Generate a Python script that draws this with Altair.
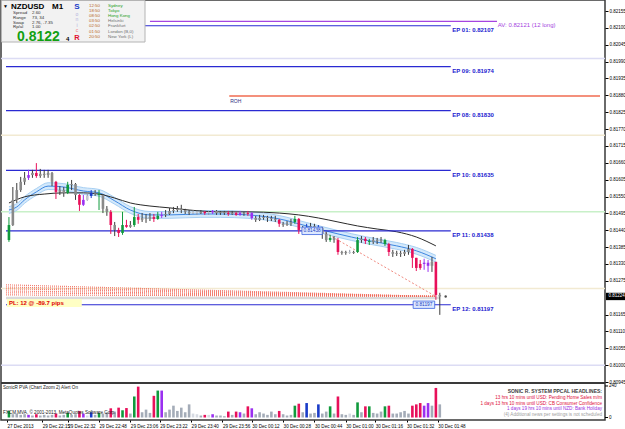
import json
import altair as alt
import pandas as pd

# ---------------- data ----------------
bar = list(range(111))
open_ = [0.81408,0.81457,0.81539,0.81571,0.81598,0.81611,0.81620,0.81627,0.81617,0.81624,
         0.81620,0.81627,0.81598,0.81565,0.81571,0.81562,0.81588,0.81591,0.81555,0.81523,
         0.81539,0.81552,0.81562,0.81559,0.81555,0.81510,0.81500,0.81457,0.81441,0.81431,
         0.81457,0.81451,0.81457,0.81483,0.81474,0.81480,0.81477,0.81483,0.81477,0.81487,
         0.81490,0.81493,0.81503,0.81506,0.81510,0.81506,0.81500,0.81496,0.81500,0.81496,
         0.81500,0.81496,0.81499,0.81503,0.81496,0.81499,0.81496,0.81493,0.81496,0.81490,
         0.81496,0.81493,0.81496,0.81480,0.81474,0.81480,0.81483,0.81480,0.81477,0.81474,
         0.81461,0.81457,0.81461,0.81467,0.81477,0.81441,0.81438,0.81451,0.81454,0.81451,
         0.81448,0.81428,0.81408,0.81415,0.81408,0.81369,0.81366,0.81369,0.81366,0.81369,
         0.81408,0.81412,0.81405,0.81402,0.81408,0.81405,0.81408,0.81395,0.81369,0.81363,
         0.81366,0.81363,0.81369,0.81379,0.81350,0.81317,0.81330,0.81334,0.81324,0.81337,
         0.81229]
high = [0.81483,0.81581,0.81594,0.81614,0.81630,0.81637,0.81637,0.81659,0.81640,0.81637,
        0.81637,0.81630,0.81601,0.81584,0.81581,0.81598,0.81604,0.81594,0.81558,0.81555,
        0.81562,0.81571,0.81571,0.81571,0.81558,0.81519,0.81506,0.81467,0.81448,0.81500,
        0.81474,0.81470,0.81516,0.81493,0.81496,0.81493,0.81496,0.81493,0.81500,0.81500,
        0.81506,0.81513,0.81516,0.81519,0.81523,0.81510,0.81506,0.81506,0.81503,0.81506,
        0.81503,0.81503,0.81506,0.81506,0.81503,0.81503,0.81503,0.81503,0.81500,0.81503,
        0.81500,0.81503,0.81499,0.81487,0.81490,0.81490,0.81487,0.81487,0.81487,0.81477,
        0.81467,0.81470,0.81477,0.81487,0.81480,0.81454,0.81461,0.81464,0.81461,0.81457,
        0.81451,0.81435,0.81425,0.81421,0.81415,0.81373,0.81373,0.81376,0.81373,0.81418,
        0.81421,0.81418,0.81412,0.81418,0.81415,0.81418,0.81412,0.81399,0.81376,0.81373,
        0.81373,0.81376,0.81392,0.81382,0.81350,0.81343,0.81347,0.81343,0.81353,0.81337,
        0.81236]
low = [0.81402,0.81454,0.81529,0.81565,0.81588,0.81604,0.81611,0.81611,0.81611,0.81611,
       0.81611,0.81584,0.81542,0.81555,0.81549,0.81558,0.81571,0.81539,0.81503,0.81519,
       0.81536,0.81545,0.81552,0.81506,0.81496,0.81487,0.81428,0.81421,0.81418,0.81425,
       0.81448,0.81448,0.81451,0.81461,0.81467,0.81464,0.81470,0.81467,0.81474,0.81480,
       0.81483,0.81490,0.81496,0.81500,0.81496,0.81493,0.81490,0.81493,0.81490,0.81493,
       0.81490,0.81490,0.81493,0.81490,0.81490,0.81490,0.81487,0.81490,0.81487,0.81487,
       0.81487,0.81487,0.81474,0.81467,0.81470,0.81474,0.81467,0.81470,0.81467,0.81451,
       0.81451,0.81454,0.81454,0.81461,0.81428,0.81431,0.81435,0.81444,0.81444,0.81438,
       0.81412,0.81402,0.81402,0.81399,0.81360,0.81360,0.81360,0.81363,0.81363,0.81366,
       0.81399,0.81395,0.81392,0.81395,0.81395,0.81399,0.81389,0.81356,0.81353,0.81356,
       0.81353,0.81356,0.81360,0.81317,0.81307,0.81311,0.81311,0.81304,0.81304,0.81213,
       0.81164]
close = [0.81457,0.81539,0.81571,0.81598,0.81611,0.81620,0.81627,0.81617,0.81624,0.81620,
         0.81627,0.81598,0.81565,0.81571,0.81562,0.81588,0.81591,0.81555,0.81523,0.81539,
         0.81552,0.81562,0.81559,0.81555,0.81510,0.81500,0.81457,0.81441,0.81431,0.81457,
         0.81451,0.81457,0.81483,0.81474,0.81480,0.81477,0.81483,0.81477,0.81487,0.81490,
         0.81493,0.81503,0.81506,0.81510,0.81506,0.81500,0.81496,0.81500,0.81496,0.81500,
         0.81496,0.81499,0.81503,0.81496,0.81499,0.81496,0.81493,0.81496,0.81490,0.81496,
         0.81493,0.81496,0.81480,0.81474,0.81480,0.81483,0.81480,0.81477,0.81474,0.81461,
         0.81457,0.81461,0.81467,0.81477,0.81441,0.81438,0.81451,0.81454,0.81451,0.81448,
         0.81428,0.81408,0.81415,0.81408,0.81369,0.81366,0.81369,0.81366,0.81369,0.81408,
         0.81412,0.81405,0.81402,0.81408,0.81405,0.81408,0.81395,0.81369,0.81363,0.81366,
         0.81363,0.81369,0.81379,0.81350,0.81317,0.81330,0.81334,0.81324,0.81337,0.81229,
         0.81224]
pva = ["g","n","n","n","n","p","n","r","n","n",
       "n","n","r","n","n","g","n","n","r","p",
       "l","b","n","g","n","n","r","n","r","g",
       "r","n","g","r","n","n","n","r","g","p",
       "n","n","n","n","n","n","n","l","l","n",
       "r","l","p","n","n","n","r","n","r","p",
       "n","r","p","n","n","n","n","n","n","r",
       "n","n","n","g","r","n","b","n","n","b",
       "n","n","g","n","r","n","n","l","n","g",
       "n","r","g","n","n","n","g","r","n","n",
       "n","n","n","r","r","r","p","p","n","r",
       "n"]
volume = [50,25,30,20,25,20,15,25,15,20,
          15,20,30,15,20,35,20,25,50,30,
          15,40,20,35,30,40,70,45,75,55,
          72,30,160,235,40,60,35,165,205,205,
          40,60,90,50,75,40,100,30,25,15,
          20,20,25,15,15,10,45,20,45,40,
          30,85,70,25,40,30,20,45,25,50,
          25,15,20,90,105,40,110,30,35,100,
          30,45,85,30,160,25,20,30,20,115,
          40,85,85,35,30,45,85,90,30,30,
          40,50,30,90,100,110,90,110,90,225,
          100]

slow_bar = [0,4,9,14,19,23,27,31,36,41,46,54,61,69,74,79,84,89,94,99,104,109]
slow_ma = [0.81529,0.81549,0.81558,0.81562,0.81562,0.81558,0.81545,0.81529,0.81519,0.81513,0.81506,
           0.81500,0.81500,0.81496,0.81490,0.81480,0.81467,0.81454,0.81444,0.81435,0.81418,0.81389]
fast_bar = [0,2,4,7,10,14,19,23,27,31,36,41,49,54,61,69,76,84,91,99,104,109]
fast_ma = [0.81506,0.81516,0.81539,0.81565,0.81584,0.81581,0.81568,0.81562,0.81536,0.81506,0.81490,
           0.81490,0.81493,0.81493,0.81490,0.81477,0.81454,0.81428,0.81408,0.81389,0.81373,0.81347]

price_ticks = [0.82155,0.82100,0.82045,0.81990,0.81935,0.81880,0.81825,0.81770,0.81715,0.81660,
               0.81605,0.81550,0.81495,0.81440,0.81385,0.81330,0.81275,0.81165,0.81110,
               0.81055,0.81000,0.80945]
volume_ticks = [0, 240]
time_tick_bars = [-0.5,8.5,15,23,31,38.5,46.5,54.5,62,70,78,86,93.5,101.5,109.5]
time_labels = ["27 Dec 2013","29 Dec 22:15","29 Dec 22:32","29 Dec 22:48","29 Dec 23:06",
               "29 Dec 23:22","29 Dec 23:40","29 Dec 23:56","30 Dec 00:12","30 Dec 00:28",
               "30 Dec 00:44","30 Dec 01:00","30 Dec 01:16","30 Dec 01:32","30 Dec 01:48"]

ep_names = ["EP 01","EP 09","EP 08","EP 10","EP 11","EP 12"]
ep_prices = [0.82107,0.81974,0.81830,0.81635,0.81438,0.81197]
av_price = 0.82121
current_price = 0.81224
roh_price = 0.81878
level_prices = [0.82000,0.81750,0.81500,0.81250,0.81000]
level_colors = ["#dcdcf4","#f2ead2","#c8f0c8","#f2ead2","#dcdcf4"]
fan_start = [0.81262,0.81255,0.81249,0.81242,0.81236,0.81229]
headlines = ["SONIC R. SYSTEM PPCAL HEADLINES:",
             "13 hrs 10 mins until USD: Pending Home Sales m/m",
             "1 days 13 hrs 10 mins until USD: CB Consumer Confidence",
             "1 days 19 hrs 10 mins until NZD: Bank Holiday",
             "(4)  Additional news per settings is not scheduled"]

# ---------------- styling ----------------
FONT = "Liberation Sans"
W, H = 604, 420
X0, X1 = -0.75, 150.9
xs = alt.Scale(domain=[X0, X1], nice=False, zero=False)
ys = alt.Scale(domain=[0.80945, 0.82191], range=[382, 0], nice=False, zero=False)
vs = alt.Scale(domain=[0, 255], range=[417.5, 384], nice=False, zero=False)
yaxis = alt.Axis(orient="right", values=price_ticks, format=".5f", grid=False, domain=False,
                 tickSize=3, tickColor="#000", labelFontSize=4.5, labelColor="#000",
                 labelPadding=1, title=None, labelFont=FONT)
lab_expr = "%s[indexof(%s, datum.value)]" % (json.dumps(time_labels), json.dumps(time_tick_bars))
xaxis = alt.Axis(values=time_tick_bars, labelExpr=lab_expr, labelAlign="left", labelFontSize=4.6,
                 labelColor="#000", tickSize=2, tickColor="#000", labelPadding=1, domain=False,
                 grid=False, title=None, labelFont=FONT, labelOverlap=False, labelFlush=False)
cats = ["n", "l", "r", "g", "b", "p"]
wick_rng = ["#3c3c3c", "#8c92a0", "#e8105a", "#109a3c", "#1a3cc8", "#9a30f0"]
body_rng = ["#8a8a8a", "#c4c8d0", "#e8105a", "#109a3c", "#1a3cc8", "#9a30f0"]
vol_rng = ["#a4acb8", "#d6dae2", "#e8105a", "#109a3c", "#1a3cc8", "#9a30f0"]


def X(f):
    return alt.X(f, scale=xs, axis=xaxis)


def Y(f):
    return alt.Y(f, scale=ys, axis=yaxis)


def txt(s, x, y, size=5, color="#000", weight="normal", align="left"):
    return alt.Chart(alt.Data(values=[{}])).mark_text(
        text=s, align=align, baseline="middle", fontSize=size, color=color,
        fontWeight=weight, font=FONT).encode(x=alt.value(x), y=alt.value(y))


df = pd.DataFrame(dict(bar=bar, open=open_, high=high, low=low, close=close, pva=pva, volume=volume))
df["wick_c"] = df["pva"].map(dict(zip(cats, wick_rng)))
df["body_c"] = df["pva"].map(dict(zip(cats, body_rng)))
df["vol_c"] = df["pva"].map(dict(zip(cats, vol_rng)))
slow_df = pd.DataFrame(dict(bar=slow_bar, ma=slow_ma))
fast_df = pd.DataFrame(dict(bar=fast_bar, ma=fast_ma))
ep_df = pd.DataFrame(dict(name=ep_names, price=ep_prices, x0=X0, x1=112.8))

L = []
L.append(alt.Chart(pd.DataFrame(dict(p=level_prices, c=level_colors))).mark_rule(strokeWidth=1.5)
         .encode(y=Y("p:Q"), color=alt.Color("c:N", scale=None)))
L.append(alt.Chart(pd.DataFrame(dict(p=[roh_price], a=[56.25], b=[X1]))).mark_rule(
    color="#f4907c", strokeWidth=2).encode(x=X("a:Q"), x2="b:Q", y=Y("p:Q")))
band = alt.Chart(fast_df).transform_calculate(lo="datum.ma - 0.00011", hi="datum.ma + 0.00011")
L.append(band.mark_area(color="#d4e9fb", interpolate="monotone").encode(x=X("bar:Q"), y=Y("lo:Q"), y2="hi:Q"))
L.append(band.mark_line(color="#a6cff3", strokeWidth=1, interpolate="monotone").encode(x=X("bar:Q"), y=Y("lo:Q")))
L.append(band.mark_line(color="#a6cff3", strokeWidth=1, interpolate="monotone").encode(x=X("bar:Q"), y=Y("hi:Q")))
L.append(alt.Chart(fast_df).mark_line(color="#3d86e0", strokeWidth=1, interpolate="monotone")
         .encode(x=X("bar:Q"), y=Y("ma:Q")))
L.append(alt.Chart(slow_df).mark_line(color="#2a2a2a", strokeWidth=1, interpolate="monotone")
         .encode(x=X("bar:Q"), y=Y("ma:Q")))
L.append(alt.Chart(ep_df).mark_rule(color="#2a2ad2", strokeWidth=1.2).encode(x=X("x0:Q"), x2="x1:Q", y=Y("price:Q")))
L.append(alt.Chart(pd.DataFrame(dict(p=[0.81219], a=[X0], b=[110]))).mark_rule(
    color="#dadada", strokeWidth=2.5).encode(x=X("a:Q"), x2="b:Q", y=Y("p:Q")))
fan_rows = []
for k, p in enumerate(fan_start):
    fan_rows.append(dict(id=k, bar=X0, p=p))
    fan_rows.append(dict(id=k, bar=109, p=current_price))
L.append(alt.Chart(pd.DataFrame(fan_rows)).mark_line(color="#f06a5a", strokeWidth=1.2, strokeDash=[1, 1], opacity=0.85)
         .encode(x=X("bar:Q"), y=Y("p:Q"), detail="id:N"))
L.append(alt.Chart(pd.DataFrame(dict(bar=[79.9, 109], p=[0.81438, current_price]))).mark_line(
    color="#f08a80", strokeWidth=1, strokeDash=[2, 2]).encode(x=X("bar:Q"), y=Y("p:Q")))
L.append(alt.Chart(df).mark_rule(strokeWidth=1).encode(
    x=X("bar:Q"), y=Y("low:Q"), y2="high:Q", color=alt.Color("wick_c:N", scale=None)))
L.append(alt.Chart(df).mark_bar(size=2.6).encode(
    x=X("bar:Q"), y=Y("open:Q"), y2="close:Q", color=alt.Color("body_c:N", scale=None)))
L.append(alt.Chart(pd.DataFrame(dict(p=[av_price], a=[36], b=[124.6]))).mark_rule(
    color="#a544e0", strokeWidth=1.2).encode(x=X("a:Q"), x2="b:Q", y=Y("p:Q")))
L.append(alt.Chart(pd.DataFrame(dict(p=[av_price], a=[124.8]))).mark_text(
    text="AV: 0.82121  (12 long)", align="left", dy=3.5, fontSize=6, color="#a544e0", font=FONT)
    .encode(x=X("a:Q"), y=Y("p:Q")))
L.append(alt.Chart(ep_df).transform_calculate(
    lab="datum.name + ':  ' + format(datum.price, '.5f')").mark_text(
    align="left", dx=1.5, dy=4.5, fontSize=6, fontWeight="bold", color="#1c1cd0", font=FONT)
    .encode(x=X("x1:Q"), y=Y("price:Q"), text="lab:N"))
tag_df = pd.DataFrame(dict(a=[74.8, 103.2], b=[80.0, 108.7], p=[0.81438, 0.81197]))
tag = alt.Chart(tag_df).transform_calculate(lo="datum.p - 0.00012", hi="datum.p + 0.00012", m="(datum.a + datum.b) / 2")
L.append(tag.mark_rect(fill="#dde8ff", stroke="#3c64e0", strokeWidth=0.8).encode(
    x=X("a:Q"), x2="b:Q", y=Y("lo:Q"), y2="hi:Q"))
L.append(tag.transform_calculate(t="format(datum.p, '.5f')").mark_text(
    fontSize=4.8, color="#2040c0", font=FONT).encode(x=X("m:Q"), y=Y("p:Q"), text="t:N"))
L.append(alt.Chart(pd.DataFrame(dict(a=[-0.5], b=[18.6], lo=[0.81190], hi=[0.81216]))).mark_rect(
    fill="#ffffc4").encode(x=X("a:Q"), x2="b:Q", y=Y("lo:Q"), y2="hi:Q"))
L.append(alt.Chart(pd.DataFrame(dict(a=[0.0], p=[0.81203]))).mark_text(
    text="PL:  12 @ -89.7  pips", align="left", fontSize=6, fontWeight="bold", color="#e00000", font=FONT)
    .encode(x=X("a:Q"), y=Y("p:Q")))
L.append(alt.Chart(pd.DataFrame(dict(a=[56.5], p=[roh_price]))).mark_text(
    text="ROH", align="left", dy=5, fontSize=5, color="#303080", font=FONT).encode(x=X("a:Q"), y=Y("p:Q")))
L.append(alt.Chart(pd.DataFrame(dict(a=[111.5], p=[current_price]))).mark_point(
    shape="circle", filled=True, size=6, color="#000").encode(x=X("a:Q"), y=Y("p:Q")))
L.append(alt.Chart(pd.DataFrame(dict(lo=[0.81212], hi=[0.81236]))).mark_rect(color="#000").encode(
    x=alt.value(W + 1), x2=alt.value(W + 20), y=Y("lo:Q"), y2="hi:Q"))
L.append(alt.Chart(pd.DataFrame(dict(p=[current_price]))).mark_text(
    text="0.81224", align="left", fontSize=4.5, color="#fff", font=FONT).encode(x=alt.value(W + 3.5), y=Y("p:Q")))

# info panel (top-left HUD)
L.append(alt.Chart(alt.Data(values=[{}])).mark_rect(fill="#f2f2f2", stroke="#b4b4b4", strokeWidth=1).encode(
    x=alt.value(0.5), x2=alt.value(144), y=alt.value(0.5), y2=alt.value(42)))
L += [txt("▼", 2, 6, 5), txt("NZDUSD", 10, 7, 8, weight="bold"), txt("M1", 51, 7, 8, weight="bold")]
small_l = ["Spread", "Range", "Swap", "Rp/al"]
small_v = ["2.60", "73, 34", "2.76, -7.35", "1.00"]
for k, (a, b) in enumerate(zip(small_l, small_v)):
    L += [txt(a, 12, 13 + 4.8 * k, 4.4, "#303030"), txt(b, 31, 13 + 4.8 * k, 4.4, "#303030")]
L += [txt("0.8122", 16, 37, 14, "#12a012", "bold"), txt("4", 65, 38.5, 6, "#000", "bold")]
L += [txt("S", 76, 6.5, 8, "#1a3cc8", "bold", "center"), txt("o", 76, 13.5, 5, "#b4b4dc", align="center"),
      txt("n", 76, 19, 5, "#b4b4dc", align="center"), txt("i", 76, 24.5, 5, "#b4b4dc", align="center"),
      txt("c", 76, 29.5, 5, "#f08080", align="center"), txt("R", 76, 38, 7.5, "#e01030", "bold", "center")]
times = ["12:50", "18:50", "08:50", "03:50", "02:50", "01:50", "20:50"]
cities = ["Sydney", "Tokyo", "Hong Kong", "Helsinki", "Frankfurt", "London (B,0)", "New York (L)"]
rows_y = [6, 11, 16, 21, 26, 32, 37]
for k in range(7):
    L.append(txt(times[k], 88, rows_y[k], 4.4, "#b8661c"))
    L.append(txt(cities[k], 107, rows_y[k], 4.4, "#22a022" if k < 3 else "#707070"))

main = alt.layer(*L)

# ---------------- volume panel (same view, lower band) ----------------
VY = lambda f: alt.Y(f, scale=vs, axis=None)
V = []
V.append(alt.Chart(alt.Data(values=[{}])).mark_rule(color="#3a3a3a", strokeWidth=2).encode(
    y=alt.value(383)))
V.append(alt.Chart(df).mark_bar(size=2.6).encode(
    x=X("bar:Q"), y=VY("volume:Q"), color=alt.Color("vol_c:N", scale=None)))
vt = pd.DataFrame(dict(v=volume_ticks))
V.append(alt.Chart(vt).mark_rule(color="#000").encode(x=alt.value(W), x2=alt.value(W + 3), y=VY("v:Q")))
V.append(alt.Chart(vt).mark_text(align="left", fontSize=4.5, color="#000", font=FONT).encode(
    x=alt.value(W + 4), y=VY("v:Q"), text="v:Q"))
V += [txt("SonicR PVA  (Chart Zoom 2)    Alert On", 2, 388, 4.6, "#202020"),
      txt("FXCM MVA, © 2001-2013, MetaQuotes Software Corp.", 2, 413, 4.6, "#202020")]
h_cols = ["#404040", "#e0103a", "#e0103a", "#9a30e0", "#a0a0a0"]
h_y = [391, 398, 403.5, 409, 414.5]
for k in range(5):
    V.append(txt(headlines[k], W - 3, h_y[k], 5 if k == 0 else 4.6, h_cols[k],
                 "bold" if k == 0 else "normal", "right"))
vol = alt.layer(*V)

chart = alt.layer(main, vol).resolve_scale(y="independent").properties(
    width=W, height=H,
    padding={"left": 1, "top": 0, "right": 20, "bottom": 9},
    autosize=alt.AutoSizeParams(type="none"), background="#ffffff"
).configure_view(stroke="#3a3a3a", strokeWidth=1.5).configure_axis(labelFont=FONT)

chart.save("out.html", embed_options={"renderer": "svg", "actions": False})
